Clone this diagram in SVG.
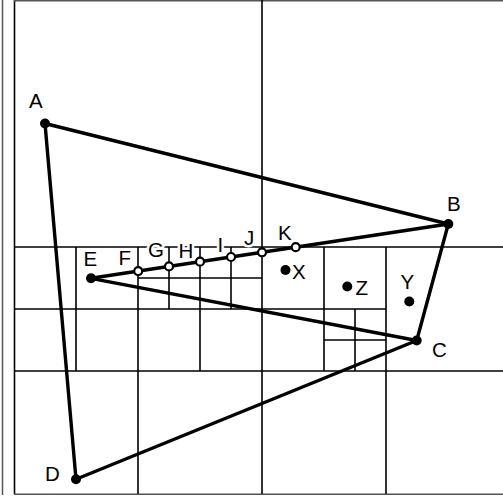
<svg xmlns="http://www.w3.org/2000/svg" width="503" height="496" viewBox="0 0 503 496">
<style>
.frame{stroke:#555;stroke-width:1.5;fill:none}
.grid{stroke:#000;stroke-width:1.6;fill:none}
.edge{stroke:#000;stroke-width:3.4;fill:none;stroke-linecap:round}
.dot{fill:#000}
.open{fill:#fff;stroke:#000;stroke-width:2.2}
.lbl{font-family:"Liberation Sans",Arial,sans-serif;font-size:20.5px;fill:#000;stroke:#fff;stroke-width:5;paint-order:stroke;stroke-linejoin:round}
</style>
<rect width="503" height="496" fill="#fff"/>
<g id="frame">
<line class="frame" x1="2.5" y1="0" x2="2.5" y2="495"/>
<line class="grid" x1="14.5" y1="0" x2="14.5" y2="494"/>
<line class="frame" x1="14" y1="0.75" x2="503" y2="0.75"/>
<line class="frame" x1="14" y1="494.25" x2="503" y2="494.25"/>
</g>
<g id="grid">
<line class="grid" x1="262" y1="0" x2="262" y2="494"/>
<line class="grid" x1="14" y1="247" x2="503" y2="247"/>
<line class="grid" x1="14" y1="371" x2="503" y2="371"/>
<line class="grid" x1="138" y1="247" x2="138" y2="494"/>
<line class="grid" x1="386" y1="247" x2="386" y2="494"/>
<line class="grid" x1="76" y1="247" x2="76" y2="371"/>
<line class="grid" x1="14" y1="309" x2="386" y2="309"/>
<line class="grid" x1="200" y1="247" x2="200" y2="371"/>
<line class="grid" x1="169" y1="247" x2="169" y2="309"/>
<line class="grid" x1="231" y1="247" x2="231" y2="309"/>
<line class="grid" x1="138" y1="278" x2="262" y2="278"/>
<line class="grid" x1="324" y1="247" x2="324" y2="371"/>
<line class="grid" x1="355" y1="309" x2="355" y2="371"/>
<line class="grid" x1="324" y1="340" x2="386" y2="340"/>
</g>
<g id="labels">
<text class="lbl" x="29" y="108">A</text>
<text class="lbl" x="447" y="211">B</text>
<text class="lbl" x="432" y="357">C</text>
<text class="lbl" x="45" y="481">D</text>
<text class="lbl" x="83.5" y="266">E</text>
<text class="lbl" x="118.5" y="265">F</text>
<text class="lbl" x="148" y="257">G</text>
<text class="lbl" x="178.5" y="257.5">H</text>
<text class="lbl" x="217.5" y="252">I</text>
<text class="lbl" x="244" y="245">J</text>
<text class="lbl" x="278" y="239.5">K</text>
<text class="lbl" x="292" y="278.5">X</text>
<text class="lbl" x="355.5" y="295">Z</text>
<text class="lbl" x="400.5" y="288.5">Y</text>
</g>
<g id="connectors">
<line class="edge" x1="45" y1="123.5" x2="448.3" y2="224"/>
<line class="edge" x1="448.3" y1="224" x2="416.7" y2="340.5"/>
<line class="edge" x1="416.7" y1="340.5" x2="76" y2="479.3"/>
<line class="edge" x1="76" y1="479.3" x2="45" y2="123.5"/>
<line class="edge" x1="91" y1="278.3" x2="448.3" y2="224"/>
<line class="edge" x1="91" y1="278.3" x2="416.7" y2="340.5"/>
</g>
<g id="A"><circle class="dot" cx="45" cy="123.5" r="5"/></g>
<g id="B"><circle class="dot" cx="448.3" cy="224" r="5"/></g>
<g id="C"><circle class="dot" cx="416.7" cy="340.5" r="5"/></g>
<g id="D"><circle class="dot" cx="76" cy="479.3" r="5"/></g>
<g id="E"><circle class="dot" cx="91" cy="278.3" r="5"/></g>
<g id="F"><circle class="open" cx="138.2" cy="271.1" r="4"/></g>
<g id="G"><circle class="open" cx="169" cy="266.4" r="4"/></g>
<g id="H"><circle class="open" cx="200" cy="261.7" r="4"/></g>
<g id="I"><circle class="open" cx="231" cy="257" r="4"/></g>
<g id="J"><circle class="open" cx="262" cy="252.3" r="4"/></g>
<g id="K"><circle class="open" cx="295.7" cy="247.2" r="4"/></g>
<g id="X"><circle class="dot" cx="285.5" cy="270" r="5"/></g>
<g id="Z"><circle class="dot" cx="347.3" cy="286.5" r="5"/></g>
<g id="Y"><circle class="dot" cx="409.3" cy="301.5" r="5"/></g>
</svg>
